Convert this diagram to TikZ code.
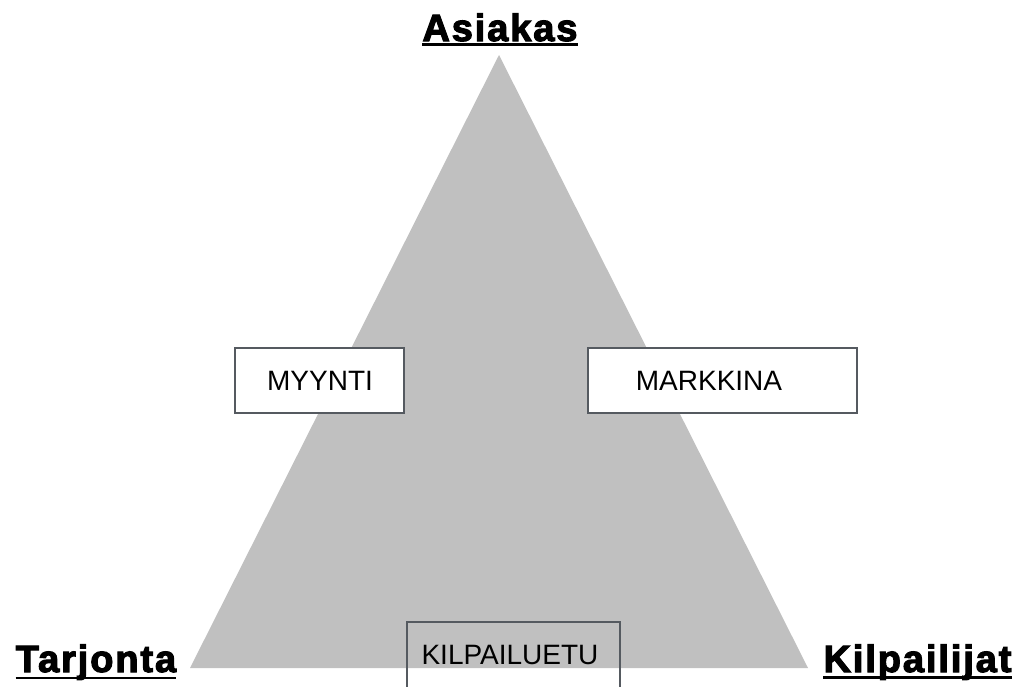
\documentclass[tikz,border=0pt]{standalone}
\usepackage{fontspec}
\setmainfont{Liberation Sans}
\newfontfamily\labelfont[FakeBold=3,LetterSpace=5]{Liberation Sans Bold}
\usetikzlibrary{calc}
\definecolor{trigray}{HTML}{C0C0C0}
\definecolor{boxline}{HTML}{555A60}
\tikzset{
  boxtext/.style={inner sep=0pt, anchor=base, font=\fontsize{28}{34}\selectfont, text=black},
  corner/.style={inner sep=0pt, anchor=base, font=\labelfont\fontsize{38}{44}\selectfont, text=black},
  uline/.style={line width=2.6pt, black},
  boxframe/.style={draw=boxline, line width=2pt}
}
\begin{document}
\begin{tikzpicture}[x=1pt,y=-1pt]
\clip (0,0) rectangle (1025,686);
\fill[white] (0,0) rectangle (1025,686);
% triangle
\coordinate (apex) at (499,55);
\coordinate (bl) at (190,668);
\coordinate (br) at (808,668);
\fill[trigray] (apex) -- (bl) -- (br) -- cycle;
% boxes
\draw[boxframe, fill=white] (235,348) rectangle (404,413);
\node[boxtext] (myynti) at (320,390) {MYYNTI};
\draw[boxframe, fill=white] (588,348) rectangle (857,413);
\node[boxtext] (markkina) at (709,390) {MARKKINA};
\draw[boxframe] (407,700) -- (407,622) -- (620,622) -- (620,700);
\node[boxtext] (kilp) at (510,664) {KILPAILUETU};
% corner labels
\node[corner] (asiakas) at (500,41) {Asiakas};
\draw[uline] ($(asiakas.base west)+(0,3.5)$) -- ($(asiakas.base east)+(0,3.5)$);
\node[corner] (tarjonta) at (96,672) {Tarjonta};
\draw[uline] ($(tarjonta.base west)+(0,6)$) -- ($(tarjonta.base east)+(0,6)$);
\node[corner] (kilpailijat) at (917.5,672) {Kilpailijat};
\draw[uline] ($(kilpailijat.base west)+(0,5.5)$) -- ($(kilpailijat.base east)+(0,5.5)$);
\end{tikzpicture}
\end{document}
